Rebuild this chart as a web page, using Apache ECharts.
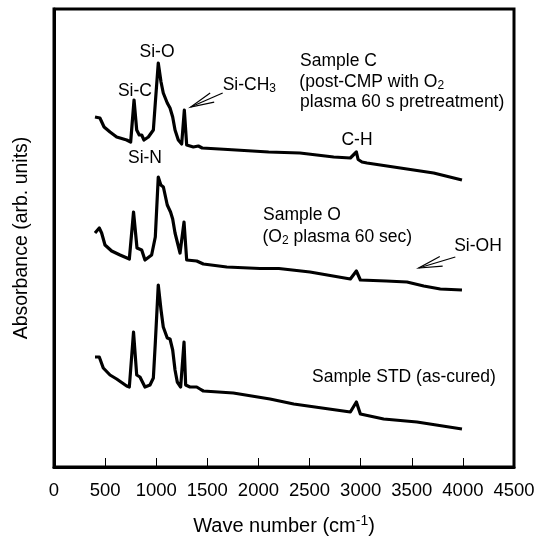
<!DOCTYPE html>
<html>
<head>
<meta charset="utf-8">
<script src="https://cdn.jsdelivr.net/npm/echarts@6/dist/echarts.min.js"></script>
<style>
html, body { margin: 0; padding: 0; background: #fff; }
#chartsdiv { width: 537px; height: 536px; }
</style>
</head>
<body>
<div id="chartsdiv"></div>
<script>
// Sample C (post-CMP with O2 plasma pretreatment)
var wnC = [401, 449, 490, 548, 613, 711, 750, 783, 809, 834, 858, 880, 923, 972, 991, 1020, 1047, 1069, 1108, 1135, 1161, 1184, 1216, 1249, 1275, 1298, 1363, 1412, 1450, 1700, 2100, 2406, 2736, 2899, 2958, 2975, 3013, 3062, 3388, 3714, 3991];
var absC = [3.50, 3.49, 3.40, 3.35, 3.30, 3.27, 3.25, 3.67, 3.37, 3.32, 3.32, 3.27, 3.30, 3.37, 3.64, 4.04, 3.85, 3.74, 3.64, 3.59, 3.50, 3.37, 3.27, 3.23, 3.57, 3.22, 3.20, 3.21, 3.19, 3.175, 3.15, 3.14, 3.10, 3.09, 3.15, 3.075, 3.05, 3.04, 2.99, 2.94, 2.87];
// Sample O (O2 plasma 60 sec)
var wnO = [401, 443, 466, 499, 564, 646, 737, 778, 812, 858, 890, 955, 991, 1020, 1045, 1070, 1108, 1140, 1161, 1184, 1233, 1272, 1298, 1396, 1461, 1690, 2015, 2200, 2504, 2899, 2958, 2997, 3250, 3453, 3617, 3779, 3991];
var absO = [2.34, 2.39, 2.34, 2.22, 2.16, 2.12, 2.08, 2.55, 2.19, 2.17, 2.07, 2.12, 2.30, 2.90, 2.82, 2.80, 2.62, 2.55, 2.48, 2.34, 2.14, 2.45, 2.07, 2.06, 2.03, 2.00, 1.985, 1.985, 1.95, 1.88, 1.96, 1.87, 1.86, 1.85, 1.81, 1.78, 1.77];
// Sample STD (as-cured)
var wnS = [401, 443, 482, 548, 613, 711, 737, 778, 809, 841, 858, 890, 939, 972, 991, 1020, 1047, 1069, 1108, 1135, 1161, 1184, 1206, 1239, 1272, 1288, 1330, 1396, 1428, 1461, 1754, 2113, 2345, 2899, 2958, 2997, 3225, 3551, 3991];
var absS = [1.10, 1.10, 0.99, 0.92, 0.88, 0.81, 0.80, 1.35, 0.92, 0.90, 0.92, 0.80, 0.82, 0.89, 1.24, 1.82, 1.57, 1.40, 1.29, 1.28, 1.17, 0.97, 0.85, 0.80, 1.25, 0.82, 0.80, 0.80, 0.78, 0.76, 0.74, 0.68, 0.63, 0.55, 0.65, 0.53, 0.48, 0.45, 0.38];

var xMin = 0, xMax = 4500, xStep = 500;
var yMin = 0, yMax = 4.58;

// labels placed in data units: [text, wave number, absorbance, align]
var labels = [
    ['Si-O', 1008, 4.15, 'center'],
    ['Si-C', 792, 3.76, 'center'],
    ['Si-CH{sub|3}', 1650, 3.82, 'left'],
    ['Si-N', 890, 3.09, 'center'],
    ['Sample C', 2407, 4.06, 'left'],
    ['(post-CMP with O{sub|2}', 2400, 3.85, 'left'],
    ['plasma 60 s pretreatment)', 2407, 3.65, 'left'],
    ['C-H', 2964, 3.27, 'center'],
    ['Sample O', 2045, 2.52, 'left'],
    ['(O{sub|2} plasma 60 sec)', 2040, 2.30, 'left'],
    ['Si-OH', 4148, 2.205, 'center'],
    ['Sample STD (as-cured)', 2524, 0.90, 'left']
];
// arrows: [from wn, from abs, tip wn, tip abs]
var arrows = [
    [1650, 3.74, 1337, 3.60],
    [3926, 2.10, 3568, 1.99]
];

function pairs(xs, ys) {
    var out = [];
    for (var i = 0; i < xs.length; i++) out.push([xs[i], ys[i]]);
    return out;
}

var font = '"Liberation Sans", Arial, sans-serif';
var myChart = echarts.init(document.getElementById('chartsdiv'));

var lineStyle = { color: '#000', width: 3.2, join: 'round' };
var option = {
    animation: false,
    backgroundColor: '#fff',
    grid: {
        left: 54, right: 23, top: 9, bottom: 69, outerBoundsMode: 'none',
        show: true, borderColor: '#000', borderWidth: 3
    },
    xAxis: {
        type: 'value', min: xMin, max: xMax, interval: xStep,
        name: 'Wave number (cm{sup|-1})',
        nameLocation: 'middle', nameGap: 47,
        nameTextStyle: {
            color: '#000', fontSize: 20, fontFamily: font, lineHeight: 24,
            rich: { sup: { fontSize: 14, verticalAlign: 'top', lineHeight: 24, padding: [0, 0, 8, 0] } }
        },
        axisLine: { lineStyle: { color: '#000', width: 3 } },
        axisTick: { inside: true, length: 9, lineStyle: { color: '#000', width: 1 } },
        axisLabel: { color: '#000', fontSize: 18.5, fontFamily: font, margin: 14, formatter: function (v) { return String(v); } },
        splitLine: { show: false }
    },
    yAxis: {
        type: 'value', min: yMin, max: yMax,
        name: 'Absorbance (arb. units)',
        nameLocation: 'middle', nameGap: 22, nameRotate: 90,
        nameTextStyle: { color: '#000', fontSize: 19.5, fontFamily: font },
        axisLine: { show: true, lineStyle: { color: '#000', width: 3 } },
        axisTick: { show: false },
        axisLabel: { show: false },
        splitLine: { show: false }
    },
    series: [
        { name: 'Sample C', type: 'line', symbol: 'none', data: pairs(wnC, absC), lineStyle: lineStyle },
        { name: 'Sample O', type: 'line', symbol: 'none', data: pairs(wnO, absO), lineStyle: lineStyle },
        { name: 'Sample STD', type: 'line', symbol: 'none', data: pairs(wnS, absS), lineStyle: lineStyle }
    ]
};
myChart.setOption(option);

// annotation texts and arrows, positioned through the axes
var graphic = [];
labels.forEach(function (l) {
    var p = myChart.convertToPixel({ gridIndex: 0 }, [l[1], l[2]]);
    graphic.push({
        type: 'text', x: p[0], y: p[1], silent: true,
        style: {
            text: l[0], fill: '#000', font: '17.5px ' + font,
            align: l[3], verticalAlign: 'middle', lineHeight: 20,
            rich: { sub: { fontSize: 12, verticalAlign: 'bottom', lineHeight: 20, padding: [9, 0, 0, 0] } }
        }
    });
});
arrows.forEach(function (a) {
    var s = myChart.convertToPixel({ gridIndex: 0 }, [a[0], a[1]]);
    var t = myChart.convertToPixel({ gridIndex: 0 }, [a[2], a[3]]);
    var ang = Math.atan2(s[1] - t[1], s[0] - t[0]);
    var len = 24, spread = 0.21;
    var h1 = [t[0] + len * Math.cos(ang + spread), t[1] + len * Math.sin(ang + spread)];
    var h2 = [t[0] + len * Math.cos(ang - spread), t[1] + len * Math.sin(ang - spread)];
    graphic.push({ type: 'polyline', silent: true, shape: { points: [s, t] }, style: { stroke: '#000', lineWidth: 1.2 } });
    graphic.push({ type: 'polyline', silent: true, shape: { points: [h1, t, h2] }, style: { stroke: '#000', lineWidth: 1.2, fill: null } });
});
myChart.setOption({ graphic: graphic });
</script>
</body>
</html>
